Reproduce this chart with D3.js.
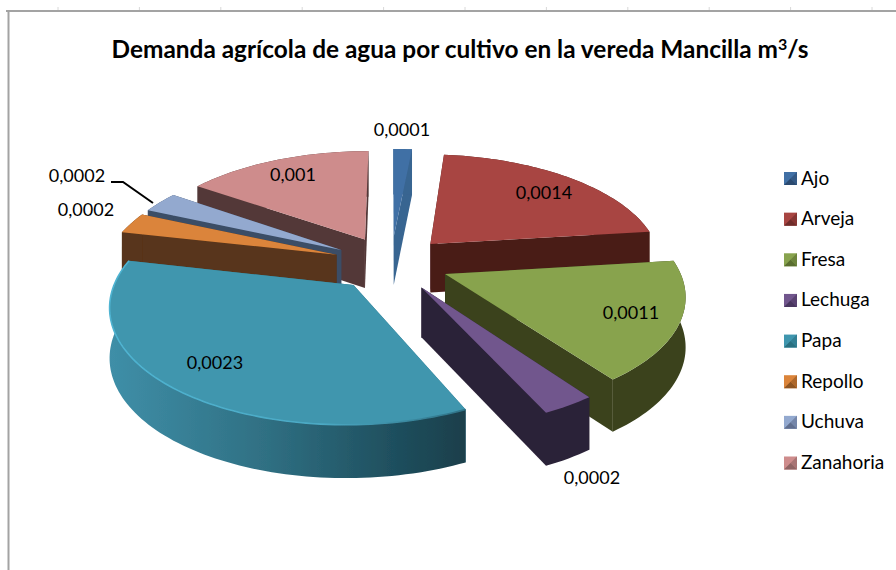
<!DOCTYPE html>
<html><head><meta charset="utf-8">
<script src="https://cdn.jsdelivr.net/npm/d3@7"></script>
<style>html,body{margin:0;padding:0;background:#fff}svg{display:block}text{font-family:Lato,"Noto Sans",sans-serif;fill:#000}</style>
</head><body><svg id="c" width="896" height="570"></svg>
<script>
const categories=["Ajo","Arveja","Fresa","Lechuga","Papa","Repollo","Uchuva","Zanahoria"];
const values=[0.0001,0.0014,0.0011,0.0002,0.0023,0.0002,0.0002,0.001];
const topColors=["#4170a5","#a84542","#88a34e","#71568d","#3f96ae","#db843a","#93a9cf","#ce8c8c"];
const wallColors=["#386591","#4a1c18","#3a421c","#2c2239","#2f7286","#58341a","#3a4d66","#533838"];
const legendDark=["#2b4a70","#6f2c2a","#5a6e30","#49365f","#297080","#8f5522","#616f8f","#8f6464"];
const labelPos=[[402,130],[544,193],[631,313],[592,478],[215,363],[86,210],[77,176],[293,175]];
const title="Demanda agrícola de agua por cultivo en la vereda Mancilla m";

const svg=d3.select("#c");
const defs=svg.append("defs");
defs.append("filter").attr("id","soft").append("feGaussianBlur").attr("stdDeviation",0.45);
const grad=defs.append("linearGradient").attr("id","papaWall").attr("gradientUnits","userSpaceOnUse")
 .attr("x1",108).attr("x2",465).attr("y1",0).attr("y2",0);
[[0,"#3f8fa8"],[0.45,"#2f6f82"],[0.8,"#1f4f5e"],[1,"#1a3f4b"]].forEach(s=>grad.append("stop").attr("offset",s[0]).attr("stop-color",s[1]));
const grad2=defs.append("linearGradient").attr("id","papaRim").attr("gradientUnits","userSpaceOnUse")
 .attr("x1",108).attr("x2",465).attr("y1",0).attr("y2",0);
[[0,"#4fb4d2"],[0.6,"#4ba9c4"],[1,"#2f7286"]].forEach(s=>grad2.append("stop").attr("offset",s[0]).attr("stop-color",s[1]));

// frame
const frame=svg.append("g");
d3.range(58,896,81.4).forEach(x=>frame.append("line").attr("x1",x).attr("x2",x).attr("y1",7).attr("y2",10).attr("stroke","#d8d8d8"));
frame.append("line").attr("x1",6).attr("x2",896).attr("y1",11).attr("y2",11).attr("stroke","#a3a3a3").attr("stroke-width",2);
frame.append("line").attr("x1",8.5).attr("x2",8.5).attr("y1",10).attr("y2",570).attr("stroke","#a3a3a3").attr("stroke-width",2);

// title
const t=svg.append("text").attr("x",460).attr("y",58).attr("text-anchor","middle").attr("font-size",24.4).attr("font-weight",700);
t.append("tspan").text(title);
t.append("tspan").attr("dy",-8).attr("font-size",16).text("3");
t.append("tspan").attr("dy",8).text("/s");

// 3D pie projection
const cx=391,cy=263,Rx=232,T=109.5,K=0.16,EXP=0.25,H=49;
function proj(X,D,z){const s=1/(1+K*D);return [cx+Rx*X*s,cy-T*D*s+z*H*Math.pow(s,0.4)];}
const arcs=d3.pie().sort(null).startAngle(0).endAngle(2*Math.PI)(values);
const slices=arcs.map((a,i)=>{const mid=(a.startAngle+a.endAngle)/2;
 return {i,a0:a.startAngle,a1:a.endAngle,mid,ox:EXP*Math.sin(mid),oy:EXP*Math.cos(mid)};});
slices.sort((p,q)=>Math.cos(q.mid)-Math.cos(p.mid));
const line=d3.line();
const pie=svg.append("g").attr("filter","url(#soft)");
function rim(s,z,rev){const n=Math.max(4,Math.ceil((s.a1-s.a0)*40));
 const pts=d3.range(n+1).map(j=>{const a=s.a0+(s.a1-s.a0)*j/n;return proj(s.ox+Math.sin(a),s.oy+Math.cos(a),z);});
 return rev?pts.reverse():pts;}
slices.forEach(s=>{
 const apex=z=>proj(s.ox,s.oy,z), i=s.i;
 const wall=i===4?"url(#papaWall)":wallColors[i];
 const g=pie.append("g");
 const r0=rim(s,0),r1=rim(s,1,true);
 g.append("path").attr("d",line([apex(0),r0[0],r1[r1.length-1],apex(1)])+"Z").attr("fill",wallColors[i]);
 g.append("path").attr("d",line([apex(0),r0[r0.length-1],r1[0],apex(1)])+"Z").attr("fill",wallColors[i]);
 g.append("path").attr("d",line(r0.concat(r1))+"Z").attr("fill",wall);
 g.append("path").attr("d",line([apex(0)].concat(r0))+"Z").attr("fill",topColors[i]);
 if(i===4){g.append("path").attr("d",line(r0)).attr("fill","none").attr("stroke","url(#papaRim)").attr("stroke-width",1.6);}
});

// labels
const fmt=v=>String(v).replace(".",",");
svg.append("g").selectAll("text").data(values).join("text")
 .attr("x",(d,i)=>labelPos[i][0]).attr("y",(d,i)=>labelPos[i][1]+6)
 .attr("text-anchor","middle").attr("font-size",18).text(fmt);
svg.append("path").attr("d",line([[111,182],[123,182],[153,203]])).attr("fill","none").attr("stroke","#000").attr("stroke-width",2);

// legend
const ly=d3.scalePoint().domain(categories).range([178.5,463]);
const lg=svg.append("g").selectAll("g").data(categories).join("g").attr("transform",d=>`translate(784,${ly(d)-6.5})`);
lg.append("rect").attr("width",13).attr("height",13).attr("fill",(d,i)=>topColors[i]);
lg.append("path").attr("d","M0,13L6.5,6.5L13,13Z").attr("fill",(d,i)=>legendDark[i]);
lg.append("path").attr("d","M13,0L6.5,6.5L13,13Z").attr("fill",(d,i)=>legendDark[i]).attr("opacity",0.6);
lg.append("text").attr("x",17).attr("y",12.5).attr("font-size",19).text(d=>d);
</script></body></html>
